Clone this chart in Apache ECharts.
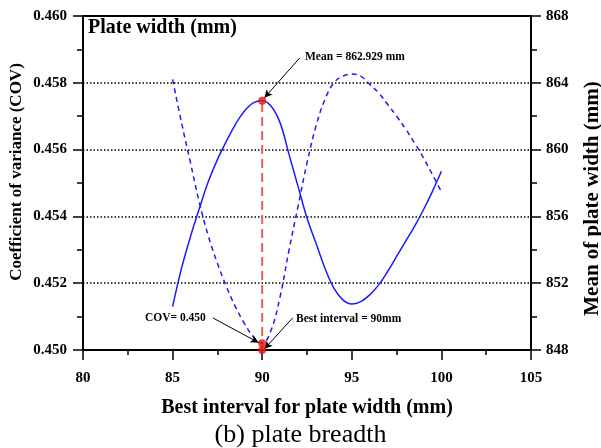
<!DOCTYPE html>
<html>
<head>
<meta charset="utf-8">
<script src="https://cdn.jsdelivr.net/npm/echarts@6/dist/echarts.min.js"></script>
<style>
  html, body { margin: 0; padding: 0; background: #fff; }
  #main { width: 601px; height: 448px; }
</style>
</head>
<body>
<div id="main"></div>
<script>
// interval values (mm)
let widthX = [85, 85.5, 86, 86.5, 87, 87.5, 88, 88.5, 89, 89.5, 90, 90.5, 91, 91.5, 92, 92.5,
  93, 93.5, 94, 94.5, 95, 95.5, 96, 96.5, 97, 97.5, 98, 98.5, 99, 99.5, 100];
// COV (left axis), dashed
let covValues = [0.4581, 0.4568, 0.4556, 0.4544, 0.4534, 0.4526, 0.4519, 0.4513, 0.4508, 0.4504,
  0.4502, 0.4506, 0.4516, 0.4530, 0.4543, 0.4556, 0.4567, 0.4575, 0.4580, 0.4582, 0.45826,
  0.4582, 0.45795, 0.4577, 0.45735, 0.4570, 0.45662, 0.4562, 0.45575, 0.45525, 0.45474];
// mean of plate width (right axis), solid
let meanValues = [850.6, 852.9, 854.8, 856.5, 858.1, 859.4, 860.5, 861.5, 862.3, 862.8,
  862.93, 862.6, 861.6, 859.7, 857.8, 855.9, 854.4, 852.9, 851.7, 851.0, 850.75,
  850.9, 851.3, 851.9, 852.7, 853.6, 854.5, 855.4, 856.4, 857.5, 858.7];
let xTicks = [80, 85, 90, 95, 100, 105];
let covTicks = [0.450, 0.452, 0.454, 0.456, 0.458, 0.460];
let meanTicks = [848, 852, 856, 860, 864, 868];

let bestX = 90;
let bestMean = 862.929;
let bestCov = 0.4502;

let font = '"Liberation Serif", "Times New Roman", serif';
let myChart = echarts.init(document.getElementById('main'));

function zip(xs, ys) {
  let out = [];
  for (let i = 0; i < xs.length; i++) out.push([xs[i], ys[i]]);
  return out;
}

let tickStyle = { color: '#000', fontFamily: font, fontWeight: 'bold', fontSize: 15 };

let option = {
  animation: false,
  backgroundColor: '#fff',
  title: {
    text: '(b) plate breadth',
    left: 'center',
    top: 417,
    textStyle: { fontFamily: font, fontWeight: 'normal', fontSize: 26, color: '#000' }
  },
  grid: {
    left: 83, right: 70, top: 16, bottom: 98,
    outerBoundsMode: 'none',
    show: true, borderColor: '#000', borderWidth: 2
  },
  xAxis: {
    type: 'value',
    min: xTicks[0], max: xTicks[xTicks.length - 1], interval: 5,
    name: 'Best interval for plate width (mm)',
    nameLocation: 'middle', nameGap: 48,
    nameTextStyle: { color: '#000', fontFamily: font, fontWeight: 'bold', fontSize: 20 },
    axisLine: { show: true, onZero: false, lineStyle: { color: '#000', width: 2 } },
    axisTick: { show: true, length: 10, lineStyle: { color: '#000', width: 1.5 } },
    minorTick: { show: true, splitNumber: 2, length: 5, lineStyle: { color: '#000', width: 1.5 } },
    axisLabel: Object.assign({ margin: 21 }, tickStyle),
    splitLine: { show: false }
  },
  yAxis: [
    {
      type: 'value',
      min: covTicks[0], max: covTicks[covTicks.length - 1], interval: 0.002,
      name: 'Coefficient of variance (COV)',
      nameLocation: 'middle', nameGap: 58, nameRotate: 90,
      nameMoveOverlap: false,
      nameTextStyle: { color: '#000', fontFamily: font, fontWeight: 'bold', fontSize: 17, padding: [0, 0, 0, 22] },
      axisLine: { show: true, lineStyle: { color: '#000', width: 2 } },
      axisTick: { show: true, length: 10, lineStyle: { color: '#000', width: 1.5 } },
      minorTick: { show: true, splitNumber: 2, length: 6, lineStyle: { color: '#000', width: 1.5 } },
      axisLabel: Object.assign({ margin: 16, formatter: function (v) { return v.toFixed(3); } }, tickStyle),
      splitLine: { show: true, lineStyle: { color: '#000', type: [1.5, 2], width: 1.5 } }
    },
    {
      type: 'value',
      position: 'right',
      min: meanTicks[0], max: meanTicks[meanTicks.length - 1], interval: 4,
      name: 'Mean of plate width (mm)',
      nameLocation: 'middle', nameGap: 51, nameRotate: 90,
      nameTextStyle: { color: '#000', fontFamily: font, fontWeight: 'bold', fontSize: 21, padding: [0, 31, 0, 0] },
      axisLine: { show: true, lineStyle: { color: '#000', width: 2 } },
      axisTick: { show: true, length: 10, lineStyle: { color: '#000', width: 1.5 } },
      minorTick: { show: true, splitNumber: 2, length: 6, lineStyle: { color: '#000', width: 1.5 } },
      axisLabel: Object.assign({ margin: 15 }, tickStyle),
      splitLine: { show: false }
    }
  ],
  graphic: [
    {
      type: 'text', left: 88, top: 18,
      style: { text: 'Plate width (mm)', fill: '#000', font: 'bold 20px ' + font }
    },
    {
      type: 'text', left: 305, top: 51,
      style: { text: 'Mean = 862.929 mm', fill: '#000', font: 'bold 11.5px ' + font }
    },
    {
      type: 'text', left: 145, top: 312,
      style: { text: 'COV= 0.450', fill: '#000', font: 'bold 11.5px ' + font }
    },
    {
      type: 'text', left: 296, top: 313,
      style: { text: 'Best interval = 90mm', fill: '#000', font: 'bold 11.5px ' + font }
    }
  ],
  series: [
    {
      name: 'COV',
      type: 'line',
      yAxisIndex: 0,
      smooth: 0.4,
      showSymbol: false,
      data: zip(widthX, covValues),
      lineStyle: { color: '#1a1aff', width: 1.5, type: [5, 4] },
      z: 3
    },
    {
      name: 'Mean',
      type: 'line',
      yAxisIndex: 1,
      smooth: 0.4,
      showSymbol: false,
      data: zip(widthX, meanValues),
      lineStyle: { color: '#1a1aff', width: 1.5 },
      z: 3
    },
    {
      name: 'best line',
      type: 'line',
      yAxisIndex: 1,
      showSymbol: false,
      data: [[bestX, meanTicks[0]], [bestX, bestMean]],
      lineStyle: { color: '#f25a5a', width: 2, type: [9, 5] },
      z: 2
    },
    {
      name: 'mean point',
      type: 'scatter',
      yAxisIndex: 1,
      symbolSize: 8,
      itemStyle: { color: '#ee1111' },
      data: [[bestX, bestMean]],
      z: 5,
      markLine: {
        silent: true,
        symbol: ['none', 'arrow'],
        symbolSize: [6, 8],
        label: { show: false },
        lineStyle: { color: '#000', width: 1, type: 'solid' },
        data: [[{ coord: [92.1, 865.5] }, { coord: [90.12, 863.1] }]]
      }
    },
    {
      name: 'cov points',
      type: 'scatter',
      yAxisIndex: 0,
      symbolSize: 8,
      itemStyle: { color: '#ee1111' },
      data: [[bestX, bestCov], [bestX, covTicks[0]]],
      z: 5,
      markLine: {
        silent: true,
        symbol: ['none', 'arrow'],
        symbolSize: [6, 8],
        label: { show: false },
        lineStyle: { color: '#000', width: 1, type: 'solid' },
        data: [
          [{ coord: [87.25, 0.45096] }, { coord: [89.8, 0.45022] }],
          [{ coord: [91.7, 0.45096] }, { coord: [90.12, 0.45003] }]
        ]
      }
    }
  ]
};
myChart.setOption(option);
</script>
</body>
</html>
